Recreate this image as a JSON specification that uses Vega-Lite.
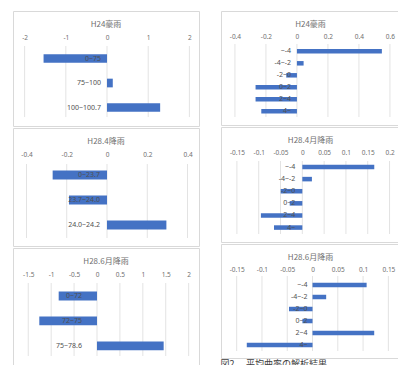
{
  "$schema": "https://vega.github.io/schema/vega-lite/v6.json",
  "padding": {"left": 12, "top": 10, "right": 0, "bottom": 0},
  "background": "white",
  "spacing": 20,
  "config": {
    "view": {"stroke": "#d9d9d9", "strokeWidth": 1},
    "font": "Noto Sans CJK JP",
    "title": {"fontSize": 8, "fontWeight": "normal", "color": "#707070", "font": "Noto Sans CJK JP", "offset": -18},
    "axis": {"labelFont": "Noto Sans", "labelFontSize": 6.5, "labelColor": "#707070", "grid": false, "domain": false, "ticks": false, "tickSize": 0, "labelPadding": 2, "title": null, "labelOverlap": false, "labelFlush": false, "labelExpr": "datum.value + ''"}
  },
  "hconcat": [
    {
      "spacing": 0,
      "vconcat": [
        {
          "width": 186, "height": 115,
          "title": {"text": "H24豪雨"},
          "data": {"values": [{"cat": "0~75", "v": -1.54}, {"cat": "75~100", "v": 0.14}, {"cat": "100~100.7", "v": 1.29}]},
          "layer": [
            {"data": {"values": [{"t": -2}, {"t": -1}, {"t": 0}, {"t": 1}, {"t": 2}]},
             "mark": {"type": "rule", "color": "#e3e3e3", "strokeWidth": 1},
             "encoding": {
               "x": {"field": "t", "type": "quantitative", "title": null, "scale": {"domain": [-2.282, 2.233], "nice": false, "zero": false}, "axis": {"orient": "top", "values": [-2, -1, 0, 1, 2], "offset": -31, "title": null, "labelOverlap": false}},
               "y": {"datum": "0~75", "type": "nominal", "bandPosition": -0.94, "scale": {"domain": ["_1", "0~75", "75~100", "100~100.7"], "paddingInner": 0.645, "paddingOuter": 0.67, "align": 0.569}, "axis": null},
               "y2": {"datum": "100~100.7", "bandPosition": 1.6}
             }},
            {"mark": {"type": "bar", "color": "#4472c4"},
             "encoding": {"x": {"field": "v", "type": "quantitative", "title": null, "axis": {"orient": "top", "values": [-2, -1, 0, 1, 2], "offset": -31, "title": null, "labelOverlap": false}}, "y": {"field": "cat", "type": "nominal", "axis": null}}},
            {"mark": {"type": "text", "align": "right", "dx": -6, "fontSize": 7, "color": "#505050", "font": "Noto Sans"},
             "encoding": {"x": {"datum": 0, "type": "quantitative", "title": null, "axis": {"orient": "top", "values": [-2, -1, 0, 1, 2], "offset": -31, "title": null, "labelOverlap": false}}, "y": {"field": "cat", "type": "nominal", "axis": null}, "text": {"field": "cat"}}}
          ]
        },
        {
          "width": 186, "height": 118,
          "title": {"text": "H28.4降雨"},
          "data": {"values": [{"cat": "0~23.7", "v": -0.27}, {"cat": "23.7~24.0", "v": -0.189}, {"cat": "24.0~24.2", "v": 0.295}]},
          "layer": [
            {"data": {"values": [{"t": -0.4}, {"t": -0.2}, {"t": 0}, {"t": 0.2}, {"t": 0.4}]},
             "mark": {"type": "rule", "color": "#e3e3e3", "strokeWidth": 1},
             "encoding": {
               "x": {"field": "t", "type": "quantitative", "title": null, "scale": {"domain": [-0.467, 0.457], "nice": false, "zero": false}, "axis": {"orient": "top", "values": [-0.4, -0.2, 0, 0.2, 0.4], "offset": -31, "title": null, "labelOverlap": false}},
               "y": {"datum": "0~23.7", "type": "nominal", "bandPosition": -0.73, "scale": {"domain": ["_1", "0~23.7", "23.7~24.0", "24.0~24.2"], "paddingInner": 0.645, "paddingOuter": 0.6825, "align": 0.513}, "axis": null},
               "y2": {"datum": "24.0~24.2", "bandPosition": 1.97}
             }},
            {"mark": {"type": "bar", "color": "#4472c4"},
             "encoding": {"x": {"field": "v", "type": "quantitative", "title": null, "axis": {"orient": "top", "values": [-0.4, -0.2, 0, 0.2, 0.4], "offset": -31, "title": null, "labelOverlap": false}}, "y": {"field": "cat", "type": "nominal", "axis": null}}},
            {"mark": {"type": "text", "align": "right", "dx": -7, "fontSize": 7, "color": "#505050", "font": "Noto Sans"},
             "encoding": {"x": {"datum": 0, "type": "quantitative", "title": null, "axis": {"orient": "top", "values": [-0.4, -0.2, 0, 0.2, 0.4], "offset": -31, "title": null, "labelOverlap": false}}, "y": {"field": "cat", "type": "nominal", "axis": null}, "text": {"field": "cat"}}}
          ]
        },
        {
          "width": 186, "height": 117,
          "title": {"text": "H28.6月降雨"},
          "data": {"values": [{"cat": "0~72", "v": -0.836}, {"cat": "72~75", "v": -1.259}, {"cat": "75~78.6", "v": 1.455}]},
          "layer": [
            {"data": {"values": [{"t": -1.5}, {"t": -1}, {"t": -0.5}, {"t": 0}, {"t": 0.5}, {"t": 1}, {"t": 1.5}, {"t": 2}]},
             "mark": {"type": "rule", "color": "#e3e3e3", "strokeWidth": 1},
             "encoding": {
               "x": {"field": "t", "type": "quantitative", "title": null, "scale": {"domain": [-1.833, 2.226], "nice": false, "zero": false}, "axis": {"orient": "top", "values": [-1.5, -1, -0.5, 0, 0.5, 1, 1.5, 2], "offset": -31, "title": null, "labelOverlap": false}},
               "y": {"datum": "0~72", "type": "nominal", "bandPosition": -0.97, "scale": {"domain": ["_1", "0~72", "72~75", "75~78.6"], "paddingInner": 0.645, "paddingOuter": 0.67, "align": 0.559}, "axis": null},
               "y2": {"datum": "75~78.6", "bandPosition": 1.65}
             }},
            {"mark": {"type": "bar", "color": "#4472c4"},
             "encoding": {"x": {"field": "v", "type": "quantitative", "title": null, "axis": {"orient": "top", "values": [-1.5, -1, -0.5, 0, 0.5, 1, 1.5, 2], "offset": -31, "title": null, "labelOverlap": false}}, "y": {"field": "cat", "type": "nominal", "axis": null}}},
            {"mark": {"type": "text", "align": "right", "dx": -15, "fontSize": 7, "color": "#505050", "font": "Noto Sans"},
             "encoding": {"x": {"datum": 0, "type": "quantitative", "title": null, "axis": {"orient": "top", "values": [-1.5, -1, -0.5, 0, 0.5, 1, 1.5, 2], "offset": -31, "title": null, "labelOverlap": false}}, "y": {"field": "cat", "type": "nominal", "axis": null}, "text": {"field": "cat"}}}
          ]
        }
      ]
    },
    {
      "spacing": 0,
      "title": {"text": "図2.　平均曲率の解析結果", "orient": "bottom", "anchor": "start", "offset": 1, "fontSize": 9, "color": "#404040", "font": "Noto Sans CJK JP"},
      "vconcat": [
        {
          "width": 179, "height": 114,
          "title": {"text": "H24豪雨"},
          "data": {"values": [{"cat": "~-4", "v": 0.548}, {"cat": "-4~-2", "v": 0.043}, {"cat": "-2~0", "v": -0.069}, {"cat": "0~2", "v": -0.267}, {"cat": "2~4", "v": -0.267}, {"cat": "4~", "v": -0.23}]},
          "layer": [
            {"data": {"values": [{"t": -0.4}, {"t": -0.2}, {"t": 0}, {"t": 0.2}, {"t": 0.4}, {"t": 0.6}]},
             "mark": {"type": "rule", "color": "#e3e3e3", "strokeWidth": 1},
             "encoding": {
               "x": {"field": "t", "type": "quantitative", "title": null, "scale": {"domain": [-0.49, 0.665], "nice": false, "zero": false}, "axis": {"orient": "top", "values": [-0.4, -0.2, 0, 0.2, 0.4, 0.6], "offset": -30, "title": null, "labelOverlap": false}},
               "y": {"datum": "~-4", "type": "nominal", "bandPosition": -1.12, "scale": {"domain": ["_1", "_2", "_3", "~-4", "-4~-2", "-2~0", "0~2", "2~4", "4~"], "paddingInner": 0.625, "paddingOuter": 0.56, "align": 0.151}, "axis": null},
               "y2": {"datum": "4~", "bandPosition": 1.76}
             }},
            {"mark": {"type": "bar", "color": "#4472c4"},
             "encoding": {"x": {"field": "v", "type": "quantitative", "title": null, "axis": {"orient": "top", "values": [-0.4, -0.2, 0, 0.2, 0.4, 0.6], "offset": -30, "title": null, "labelOverlap": false}}, "y": {"field": "cat", "type": "nominal", "axis": null}}},
            {"mark": {"type": "text", "align": "right", "dx": -6, "fontSize": 7, "color": "#505050", "font": "Noto Sans"},
             "encoding": {"x": {"datum": 0, "type": "quantitative", "title": null, "axis": {"orient": "top", "values": [-0.4, -0.2, 0, 0.2, 0.4, 0.6], "offset": -30, "title": null, "labelOverlap": false}}, "y": {"field": "cat", "type": "nominal", "axis": null}, "text": {"field": "cat"}}}
          ]
        },
        {
          "width": 179, "height": 115,
          "title": {"text": "H28.4月降雨"},
          "data": {"values": [{"cat": "~-4", "v": 0.165}, {"cat": "-4~-2", "v": 0.022}, {"cat": "-2~0", "v": -0.0496}, {"cat": "0~2", "v": -0.029}, {"cat": "2~4", "v": -0.095}, {"cat": "4~", "v": -0.065}]},
          "layer": [
            {"data": {"values": [{"t": -0.15}, {"t": -0.1}, {"t": -0.05}, {"t": 0}, {"t": 0.05}, {"t": 0.1}, {"t": 0.15}, {"t": 0.2}]},
             "mark": {"type": "rule", "color": "#e3e3e3", "strokeWidth": 1},
             "encoding": {
               "x": {"field": "t", "type": "quantitative", "title": null, "scale": {"domain": [-0.1865, 0.224], "nice": false, "zero": false}, "axis": {"orient": "top", "values": [-0.15, -0.1, -0.05, 0, 0.05, 0.1, 0.15, 0.2], "offset": -30, "title": null, "labelOverlap": false}},
               "y": {"datum": "~-4", "type": "nominal", "bandPosition": -0.82, "scale": {"domain": ["_1", "_2", "_3", "~-4", "-4~-2", "-2~0", "0~2", "2~4", "4~"], "paddingInner": 0.625, "paddingOuter": 0.56, "align": 0.103}, "axis": null},
               "y2": {"datum": "4~", "bandPosition": 1.92}
             }},
            {"mark": {"type": "bar", "color": "#4472c4"},
             "encoding": {"x": {"field": "v", "type": "quantitative", "title": null, "axis": {"orient": "top", "values": [-0.15, -0.1, -0.05, 0, 0.05, 0.1, 0.15, 0.2], "offset": -30, "title": null, "labelOverlap": false}}, "y": {"field": "cat", "type": "nominal", "axis": null}}},
            {"mark": {"type": "text", "align": "right", "dx": -7, "fontSize": 7, "color": "#505050", "font": "Noto Sans"},
             "encoding": {"x": {"datum": 0, "type": "quantitative", "title": null, "axis": {"orient": "top", "values": [-0.15, -0.1, -0.05, 0, 0.05, 0.1, 0.15, 0.2], "offset": -30, "title": null, "labelOverlap": false}}, "y": {"field": "cat", "type": "nominal", "axis": null}, "text": {"field": "cat"}}}
          ]
        },
        {
          "width": 179, "height": 114,
          "title": {"text": "H28.6月降雨"},
          "data": {"values": [{"cat": "~-4", "v": 0.107}, {"cat": "-4~-2", "v": 0.027}, {"cat": "-2~0", "v": -0.0465}, {"cat": "0~2", "v": -0.02}, {"cat": "2~4", "v": 0.122}, {"cat": "4~", "v": -0.13}]},
          "layer": [
            {"data": {"values": [{"t": -0.15}, {"t": -0.1}, {"t": -0.05}, {"t": 0}, {"t": 0.05}, {"t": 0.1}, {"t": 0.15}]},
             "mark": {"type": "rule", "color": "#e3e3e3", "strokeWidth": 1},
             "encoding": {
               "x": {"field": "t", "type": "quantitative", "title": null, "scale": {"domain": [-0.181, 0.173], "nice": false, "zero": false}, "axis": {"orient": "top", "values": [-0.15, -0.1, -0.05, 0, 0.05, 0.1, 0.15], "offset": -30, "title": null, "labelOverlap": false}},
               "y": {"datum": "~-4", "type": "nominal", "bandPosition": -1.5, "scale": {"domain": ["_1", "_2", "_3", "~-4", "-4~-2", "-2~0", "0~2", "2~4", "4~"], "paddingInner": 0.625, "paddingOuter": 0.56, "align": 0.203}, "axis": null},
               "y2": {"datum": "4~", "bandPosition": 1.83}
             }},
            {"mark": {"type": "bar", "color": "#4472c4"},
             "encoding": {"x": {"field": "v", "type": "quantitative", "title": null, "axis": {"orient": "top", "values": [-0.15, -0.1, -0.05, 0, 0.05, 0.1, 0.15], "offset": -30, "title": null, "labelOverlap": false}}, "y": {"field": "cat", "type": "nominal", "axis": null}}},
            {"mark": {"type": "text", "align": "right", "dx": -5, "fontSize": 7, "color": "#505050", "font": "Noto Sans"},
             "encoding": {"x": {"datum": 0, "type": "quantitative", "title": null, "axis": {"orient": "top", "values": [-0.15, -0.1, -0.05, 0, 0.05, 0.1, 0.15], "offset": -30, "title": null, "labelOverlap": false}}, "y": {"field": "cat", "type": "nominal", "axis": null}, "text": {"field": "cat"}}}
          ]
        }
      ]
    }
  ]
}
